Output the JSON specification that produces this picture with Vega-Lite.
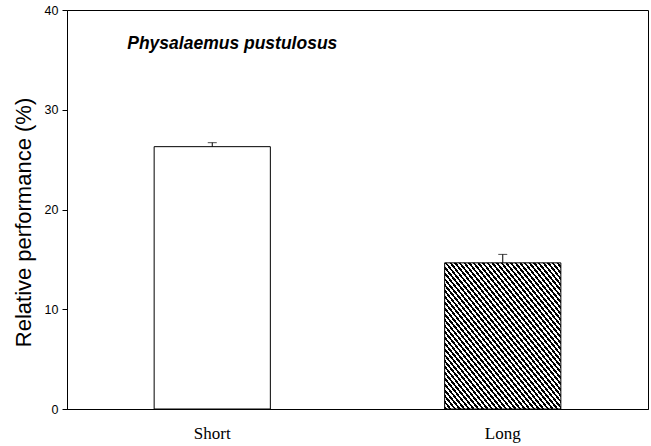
{
  "$schema": "https://vega.github.io/schema/vega-lite/v6.json",
  "width": 581,
  "height": 399,
  "autosize": "none",
  "padding": {"left": 67, "top": 10, "right": 3, "bottom": 37},
  "background": "white",
  "config": {
    "view": {"stroke": "black", "strokeWidth": 1},
    "axis": {"domainColor": "black", "tickColor": "black", "labelColor": "black", "titleColor": "black", "grid": false}
  },
  "data": {"values": [
    {"cond": "Short", "mean": 26.3, "upper": 26.7},
    {"cond": "Long", "mean": 14.65, "upper": 15.5}
  ]},
  "encoding": {
    "x": {"field": "cond", "type": "nominal",
      "scale": {"domain": ["Short", "Long"], "paddingInner": 0.6, "paddingOuter": 0.3},
      "axis": {"title": null, "ticks": false, "tickSize": 0, "labelAngle": 0, "labelFont": "Liberation Serif", "labelFontSize": 17, "labelPadding": 16}}
  },
  "layer": [
    {
      "mark": {"type": "bar", "stroke": "black", "strokeWidth": 1},
      "encoding": {
        "y": {"field": "mean", "type": "quantitative",
          "scale": {"domain": [0, 40], "nice": false},
          "axis": {"values": [0, 10, 20, 30, 40], "title": "Relative performance (%)", "titleFont": "Liberation Sans", "titleFontSize": 22, "titleFontWeight": "normal", "titlePadding": 9, "titleY": 212, "labelFont": "Liberation Sans", "labelFontSize": 12.5, "tickSize": 5, "labelPadding": 4}},
        "fill": {
          "condition": {"test": "datum.cond === 'Long'", "value": {"gradient": "linear", "x1": 0, "y1": 1, "x2": 1, "y2": 0, "stops": [
{"offset":0,"color":"#000"},{"offset":0.01,"color":"#000"},{"offset":0.01,"color":"#fff"},{"offset":0.02,"color":"#fff"},
{"offset":0.02,"color":"#000"},{"offset":0.03,"color":"#000"},{"offset":0.03,"color":"#fff"},{"offset":0.04,"color":"#fff"},
{"offset":0.04,"color":"#000"},{"offset":0.05,"color":"#000"},{"offset":0.05,"color":"#fff"},{"offset":0.06,"color":"#fff"},
{"offset":0.06,"color":"#000"},{"offset":0.07,"color":"#000"},{"offset":0.07,"color":"#fff"},{"offset":0.08,"color":"#fff"},
{"offset":0.08,"color":"#000"},{"offset":0.09,"color":"#000"},{"offset":0.09,"color":"#fff"},{"offset":0.1,"color":"#fff"},
{"offset":0.1,"color":"#000"},{"offset":0.11,"color":"#000"},{"offset":0.11,"color":"#fff"},{"offset":0.12,"color":"#fff"},
{"offset":0.12,"color":"#000"},{"offset":0.13,"color":"#000"},{"offset":0.13,"color":"#fff"},{"offset":0.14,"color":"#fff"},
{"offset":0.14,"color":"#000"},{"offset":0.15,"color":"#000"},{"offset":0.15,"color":"#fff"},{"offset":0.16,"color":"#fff"},
{"offset":0.16,"color":"#000"},{"offset":0.17,"color":"#000"},{"offset":0.17,"color":"#fff"},{"offset":0.18,"color":"#fff"},
{"offset":0.18,"color":"#000"},{"offset":0.19,"color":"#000"},{"offset":0.19,"color":"#fff"},{"offset":0.2,"color":"#fff"},
{"offset":0.2,"color":"#000"},{"offset":0.21,"color":"#000"},{"offset":0.21,"color":"#fff"},{"offset":0.22,"color":"#fff"},
{"offset":0.22,"color":"#000"},{"offset":0.23,"color":"#000"},{"offset":0.23,"color":"#fff"},{"offset":0.24,"color":"#fff"},
{"offset":0.24,"color":"#000"},{"offset":0.25,"color":"#000"},{"offset":0.25,"color":"#fff"},{"offset":0.26,"color":"#fff"},
{"offset":0.26,"color":"#000"},{"offset":0.27,"color":"#000"},{"offset":0.27,"color":"#fff"},{"offset":0.28,"color":"#fff"},
{"offset":0.28,"color":"#000"},{"offset":0.29,"color":"#000"},{"offset":0.29,"color":"#fff"},{"offset":0.3,"color":"#fff"},
{"offset":0.3,"color":"#000"},{"offset":0.31,"color":"#000"},{"offset":0.31,"color":"#fff"},{"offset":0.32,"color":"#fff"},
{"offset":0.32,"color":"#000"},{"offset":0.33,"color":"#000"},{"offset":0.33,"color":"#fff"},{"offset":0.34,"color":"#fff"},
{"offset":0.34,"color":"#000"},{"offset":0.35,"color":"#000"},{"offset":0.35,"color":"#fff"},{"offset":0.36,"color":"#fff"},
{"offset":0.36,"color":"#000"},{"offset":0.37,"color":"#000"},{"offset":0.37,"color":"#fff"},{"offset":0.38,"color":"#fff"},
{"offset":0.38,"color":"#000"},{"offset":0.39,"color":"#000"},{"offset":0.39,"color":"#fff"},{"offset":0.4,"color":"#fff"},
{"offset":0.4,"color":"#000"},{"offset":0.41,"color":"#000"},{"offset":0.41,"color":"#fff"},{"offset":0.42,"color":"#fff"},
{"offset":0.42,"color":"#000"},{"offset":0.43,"color":"#000"},{"offset":0.43,"color":"#fff"},{"offset":0.44,"color":"#fff"},
{"offset":0.44,"color":"#000"},{"offset":0.45,"color":"#000"},{"offset":0.45,"color":"#fff"},{"offset":0.46,"color":"#fff"},
{"offset":0.46,"color":"#000"},{"offset":0.47,"color":"#000"},{"offset":0.47,"color":"#fff"},{"offset":0.48,"color":"#fff"},
{"offset":0.48,"color":"#000"},{"offset":0.49,"color":"#000"},{"offset":0.49,"color":"#fff"},{"offset":0.5,"color":"#fff"},
{"offset":0.5,"color":"#000"},{"offset":0.51,"color":"#000"},{"offset":0.51,"color":"#fff"},{"offset":0.52,"color":"#fff"},
{"offset":0.52,"color":"#000"},{"offset":0.53,"color":"#000"},{"offset":0.53,"color":"#fff"},{"offset":0.54,"color":"#fff"},
{"offset":0.54,"color":"#000"},{"offset":0.55,"color":"#000"},{"offset":0.55,"color":"#fff"},{"offset":0.56,"color":"#fff"},
{"offset":0.56,"color":"#000"},{"offset":0.57,"color":"#000"},{"offset":0.57,"color":"#fff"},{"offset":0.58,"color":"#fff"},
{"offset":0.58,"color":"#000"},{"offset":0.59,"color":"#000"},{"offset":0.59,"color":"#fff"},{"offset":0.6,"color":"#fff"},
{"offset":0.6,"color":"#000"},{"offset":0.61,"color":"#000"},{"offset":0.61,"color":"#fff"},{"offset":0.62,"color":"#fff"},
{"offset":0.62,"color":"#000"},{"offset":0.63,"color":"#000"},{"offset":0.63,"color":"#fff"},{"offset":0.64,"color":"#fff"},
{"offset":0.64,"color":"#000"},{"offset":0.65,"color":"#000"},{"offset":0.65,"color":"#fff"},{"offset":0.66,"color":"#fff"},
{"offset":0.66,"color":"#000"},{"offset":0.67,"color":"#000"},{"offset":0.67,"color":"#fff"},{"offset":0.68,"color":"#fff"},
{"offset":0.68,"color":"#000"},{"offset":0.69,"color":"#000"},{"offset":0.69,"color":"#fff"},{"offset":0.7,"color":"#fff"},
{"offset":0.7,"color":"#000"},{"offset":0.71,"color":"#000"},{"offset":0.71,"color":"#fff"},{"offset":0.72,"color":"#fff"},
{"offset":0.72,"color":"#000"},{"offset":0.73,"color":"#000"},{"offset":0.73,"color":"#fff"},{"offset":0.74,"color":"#fff"},
{"offset":0.74,"color":"#000"},{"offset":0.75,"color":"#000"},{"offset":0.75,"color":"#fff"},{"offset":0.76,"color":"#fff"},
{"offset":0.76,"color":"#000"},{"offset":0.77,"color":"#000"},{"offset":0.77,"color":"#fff"},{"offset":0.78,"color":"#fff"},
{"offset":0.78,"color":"#000"},{"offset":0.79,"color":"#000"},{"offset":0.79,"color":"#fff"},{"offset":0.8,"color":"#fff"},
{"offset":0.8,"color":"#000"},{"offset":0.81,"color":"#000"},{"offset":0.81,"color":"#fff"},{"offset":0.82,"color":"#fff"},
{"offset":0.82,"color":"#000"},{"offset":0.83,"color":"#000"},{"offset":0.83,"color":"#fff"},{"offset":0.84,"color":"#fff"},
{"offset":0.84,"color":"#000"},{"offset":0.85,"color":"#000"},{"offset":0.85,"color":"#fff"},{"offset":0.86,"color":"#fff"},
{"offset":0.86,"color":"#000"},{"offset":0.87,"color":"#000"},{"offset":0.87,"color":"#fff"},{"offset":0.88,"color":"#fff"},
{"offset":0.88,"color":"#000"},{"offset":0.89,"color":"#000"},{"offset":0.89,"color":"#fff"},{"offset":0.9,"color":"#fff"},
{"offset":0.9,"color":"#000"},{"offset":0.91,"color":"#000"},{"offset":0.91,"color":"#fff"},{"offset":0.92,"color":"#fff"},
{"offset":0.92,"color":"#000"},{"offset":0.93,"color":"#000"},{"offset":0.93,"color":"#fff"},{"offset":0.94,"color":"#fff"},
{"offset":0.94,"color":"#000"},{"offset":0.95,"color":"#000"},{"offset":0.95,"color":"#fff"},{"offset":0.96,"color":"#fff"},
{"offset":0.96,"color":"#000"},{"offset":0.97,"color":"#000"},{"offset":0.97,"color":"#fff"},{"offset":0.98,"color":"#fff"},
{"offset":0.98,"color":"#000"},{"offset":0.99,"color":"#000"},{"offset":0.99,"color":"#fff"},{"offset":1,"color":"#fff"}
          ]}},
          "value": "#ffffff"
        }
      }
    },
    {
      "mark": {"type": "rule", "color": "black", "strokeWidth": 1},
      "encoding": {
        "y": {"field": "mean", "type": "quantitative"},
        "y2": {"field": "upper"}
      }
    },
    {
      "mark": {"type": "tick", "color": "black", "thickness": 1, "size": 9, "orient": "horizontal"},
      "encoding": {
        "y": {"field": "upper", "type": "quantitative"}
      }
    },
    {
      "data": {"values": [{"label": "Physalaemus pustulosus", "xpos": "Short", "ypos": 36.6}]},
      "mark": {"type": "text", "align": "left", "baseline": "middle", "font": "Liberation Sans", "fontSize": 17.5, "fontStyle": "italic", "fontWeight": "bold", "color": "black", "xOffset": -85},
      "encoding": {
        "x": {"field": "xpos", "type": "nominal"},
        "y": {"field": "ypos", "type": "quantitative"},
        "text": {"field": "label"}
      }
    }
  ]
}
